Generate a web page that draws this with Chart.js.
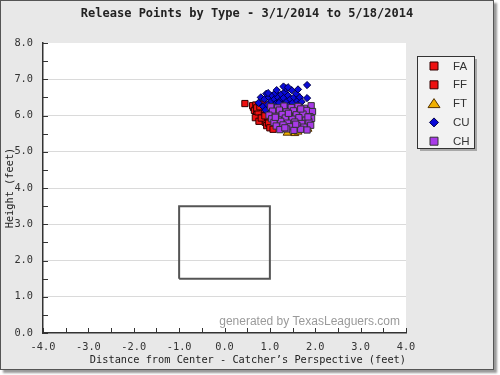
<!DOCTYPE html>
<html>
<head>
<meta charset="utf-8">
<script src="https://cdn.jsdelivr.net/npm/chart.js@4/dist/chart.umd.min.js"></script>
<style>
  html, body { margin: 0; padding: 0; background: #fff; }
  #frame {
    position: absolute; left: 0; top: 0;
    width: 492px; height: 368px;
    border: 1px solid #555;
    background: #e8e8e8;
    box-shadow: 3px 3px 2px #999;
  }
  #chart { display: block; }
</style>
</head>
<body>
<div id="frame"><canvas id="chart" width="492" height="368"></canvas></div>
<script>
// pitch types in legend order
const pitchTypes = ['FA', 'FF', 'FT', 'CU', 'CH']

// release points (x = feet from center, catcher's view; y = height in feet)
const faX = [0.45, 0.64, 0.71]
const faY = [6.33, 6.22, 6.08]

const ffX = [0.62, 0.66, 0.69, 0.71, 0.74, 0.77, 0.79, 0.82, 0.83, 0.86, 0.88, 0.90, 0.92, 0.94, 0.96, 0.98, 1.00,
  1.02, 1.04, 1.06, 0.68, 0.76, 0.85, 0.93, 1.08, 0.74, 0.81, 0.97, 1.10, 0.71, 1.00, 1.07, 0.89, 0.78]
const ffY = [6.27, 6.14, 6.29, 6.03, 6.19, 5.97, 6.11, 6.26, 5.89, 6.04, 6.17, 5.81, 5.96, 6.09, 6.23, 5.87, 6.01,
  5.75, 6.14, 5.91, 5.94, 5.84, 6.31, 5.72, 5.80, 6.10, 5.93, 5.79, 6.04, 6.21, 5.66, 5.62, 5.99, 6.24]

const ftX = [1.38, 1.55, 1.62, 1.84]
const ftY = [5.52, 5.51, 5.55, 5.63]

const cuX = [0.75, 0.80, 0.85, 0.88, 0.92, 0.95, 0.98, 1.00, 1.03, 1.05, 1.08, 1.10, 1.12, 1.15, 1.18, 1.20, 1.22,
  1.25, 1.28, 1.30, 1.33, 1.35, 1.38, 1.40, 1.42, 1.45, 1.48, 1.50, 1.53, 1.55, 1.58, 1.60, 1.63, 1.66, 1.70,
  1.05, 1.25, 1.15, 1.35, 1.45, 1.70, 0.90, 1.82, 1.82, 0.96, 1.62, 1.20, 1.30, 1.40]
const cuY = [6.35, 6.50, 6.25, 6.45, 6.60, 6.30, 6.50, 6.15, 6.40, 6.55, 6.25, 6.45, 6.62, 6.35, 6.50, 6.20, 6.40,
  6.58, 6.30, 6.48, 6.65, 6.18, 6.40, 6.55, 6.28, 6.45, 6.70, 6.35, 6.50, 6.20, 6.60, 6.40, 6.30, 6.50, 6.38,
  6.05, 6.10, 6.70, 6.75, 6.12, 6.22, 6.15, 6.84, 6.48, 6.62, 6.72, 6.35, 6.80, 6.78]

const chX = [1.02, 1.17, 1.31, 1.47, 1.62, 1.76, 1.91, 1.06, 1.21, 1.36, 1.52, 1.66, 1.81, 1.94,
  0.98, 1.13, 1.27, 1.43, 1.58, 1.73, 1.88, 1.04, 1.19, 1.34, 1.49, 1.64, 1.79, 1.92,
  1.09, 1.24, 1.39, 1.55, 1.70, 1.86, 1.14, 1.29, 1.45, 1.60, 1.75, 1.90, 1.22, 1.37, 1.53, 1.68, 1.82,
  1.12, 1.41, 1.57, 1.33, 1.68, 1.84]
const chY = [6.24, 6.21, 6.26, 6.22, 6.25, 6.20, 6.27, 6.12, 6.15, 6.10, 6.13, 6.09, 6.14, 6.11,
  6.01, 5.98, 6.03, 5.99, 6.02, 6.04, 5.97, 5.91, 5.88, 5.93, 5.90, 5.94, 5.87, 5.92,
  5.81, 5.84, 5.79, 5.82, 5.78, 5.83, 5.71, 5.74, 5.69, 5.72, 5.68, 5.73, 5.61, 5.63, 5.59, 5.62, 5.60,
  5.95, 6.06, 5.76, 5.66, 6.18, 5.96]

// strike zone outline
const zoneX = [-1, 1, 1, -1, -1]
const zoneY = [1.5, 1.5, 3.5, 3.5, 1.5]

const zip = (xs, ys) => xs.map((x, i) => ({ x: x, y: ys[i] }))

const MONO = "'DejaVu Sans Mono', monospace"

const styles = {
  FA: { fill: '#ee1111', line: '#330000', shape: 'rect', r: 4.4 },
  FF: { fill: '#ee1111', line: '#330000', shape: 'rect', r: 4.4 },
  FT: { fill: '#f0b000', line: '#553300', shape: 'triangle', r: 4.6 },
  CU: { fill: '#0a0ad8', line: '#000044', shape: 'rectRot', r: 3.6 },
  CH: { fill: '#a83ae8', line: '#333333', shape: 'rect', r: 4.4 }
}
const pts = { FA: zip(faX, faY), FF: zip(ffX, ffY), FT: zip(ftX, ftY), CU: zip(cuX, cuY), CH: zip(chX, chY) }
// later types sit on top
const drawOrder = { FA: 5, FF: 4, FT: 3, CU: 2, CH: 1 }

const datasets = pitchTypes.map(t => ({
  type: 'scatter',
  label: t,
  data: pts[t],
  order: drawOrder[t],
  pointStyle: styles[t].shape,
  pointRadius: styles[t].r,
  backgroundColor: styles[t].fill,
  borderColor: styles[t].line,
  borderWidth: 1
}))
datasets.push({
  type: 'line',
  label: 'zone',
  data: zip(zoneX, zoneY),
  order: 10,
  showLine: true,
  fill: false,
  pointRadius: 0,
  borderColor: '#555',
  borderWidth: 2
})

const plotBg = {
  id: 'plotBg',
  beforeDraw(chart) {
    const a = chart.chartArea, ctx = chart.ctx
    ctx.save()
    ctx.fillStyle = '#ffffff'
    ctx.fillRect(a.left, a.top, a.right - a.left, a.bottom - a.top)
    ctx.restore()
  }
}

const extras = {
  id: 'extras',
  afterDraw(chart) {
    const ctx = chart.ctx, a = chart.chartArea
    const xs = chart.scales.x, ys = chart.scales.y
    ctx.save()
    // inward minor ticks every 0.5
    ctx.strokeStyle = '#333'
    ctx.lineWidth = 1
    ctx.beginPath()
    for (let v = -4; v <= 4.001; v += 0.5) {
      const px = Math.round(xs.getPixelForValue(v)) + 0.5
      ctx.moveTo(px, a.bottom)
      ctx.lineTo(px, a.bottom - 5)
    }
    for (let v = 0; v <= 8.001; v += 0.5) {
      const py = Math.round(ys.getPixelForValue(v)) + 0.5
      ctx.moveTo(a.left, py)
      ctx.lineTo(a.left + 5, py)
    }
    ctx.stroke()

    // watermark
    ctx.fillStyle = '#9a9a9a'
    ctx.font = "12px 'Liberation Sans', Arial, sans-serif"
    ctx.textAlign = 'right'
    ctx.textBaseline = 'alphabetic'
    ctx.fillText('generated by TexasLeaguers.com', a.right - 6, a.bottom - 8)

    // legend box
    const bx = 416, by = 55, bw = 57, bh = 92
    ctx.fillStyle = '#a8a8a8'
    ctx.fillRect(bx + 3, by + 3, bw, bh)
    ctx.fillStyle = '#f2f2f2'
    ctx.fillRect(bx, by, bw, bh)
    ctx.strokeStyle = '#333'
    ctx.lineWidth = 1
    ctx.strokeRect(bx + 0.5, by + 0.5, bw, bh)

    pitchTypes.forEach((t, i) => {
      const s = styles[t]
      const cx = 433, cy = 65 + i * 18.8
      ctx.fillStyle = s.fill
      ctx.strokeStyle = s.line
      ctx.beginPath()
      if (s.shape === 'rect') {
        ctx.rect(cx - 4, cy - 4, 8, 8)
      } else if (s.shape === 'triangle') {
        ctx.moveTo(cx, cy - 5)
        ctx.lineTo(cx + 6, cy + 4)
        ctx.lineTo(cx - 6, cy + 4)
        ctx.closePath()
      } else {
        ctx.moveTo(cx, cy - 4.5)
        ctx.lineTo(cx + 4.5, cy)
        ctx.lineTo(cx, cy + 4.5)
        ctx.lineTo(cx - 4.5, cy)
        ctx.closePath()
      }
      ctx.fill()
      ctx.stroke()
      ctx.fillStyle = '#333'
      ctx.font = "11.5px 'Liberation Sans', Arial, sans-serif"
      ctx.textAlign = 'left'
      ctx.textBaseline = 'middle'
      ctx.fillText(t, 452, cy + 0.5)
    })
    ctx.restore()
  }
}

const tickFont = { family: MONO, size: 10.3 }

new Chart(document.getElementById('chart'), {
  data: { datasets: datasets },
  options: {
    responsive: false,
    animation: false,
    events: [],
    layout: { padding: 0 },
    plugins: {
      legend: { display: false },
      tooltip: { enabled: false },
      title: {
        display: true,
        text: 'Release Points by Type - 3/1/2014 to 5/18/2014',
        color: '#222',
        font: { family: MONO, size: 12, weight: 'bold' },
        padding: { top: 6, bottom: 21.6 }
      }
    },
    scales: {
      x: {
        type: 'linear',
        min: -4, max: 4,
        afterFit: s => { s.height = 36 },
        grid: { display: false, drawTicks: false },
        border: { display: true, color: '#333', width: 1.5 },
        ticks: { stepSize: 1, padding: 8, color: '#333', font: tickFont, callback: v => v.toFixed(1) },
        title: {
          display: true, align: 'end',
          text: 'Distance from Center - Catcher\u2019s Perspective (feet)',
          color: '#222', font: tickFont, padding: { top: 0, bottom: 2 }
        }
      },
      y: {
        type: 'linear',
        min: 0, max: 8,
        afterFit: s => { s.width = 42 },
        grid: {
          drawTicks: false,
          color: c => (c.tick && c.tick.value > 0 && c.tick.value < 8) ? '#dadada' : 'rgba(0,0,0,0)'
        },
        border: { display: true, color: '#333', width: 1.5 },
        ticks: { stepSize: 1, padding: 10, color: '#333', font: tickFont, callback: v => v.toFixed(1) },
        title: {
          display: true, text: 'Height (feet)',
          color: '#222', font: tickFont, padding: { top: 3, bottom: 0 }
        }
      },
      // empty right-hand axis that holds the legend space
      side: {
        type: 'linear',
        position: 'right',
        min: 0, max: 1,
        afterFit: s => { s.width = 87 },
        grid: { display: false, drawTicks: false },
        border: { display: false },
        ticks: { display: false }
      }
    }
  },
  plugins: [plotBg, extras]
})
</script>
</body>
</html>
